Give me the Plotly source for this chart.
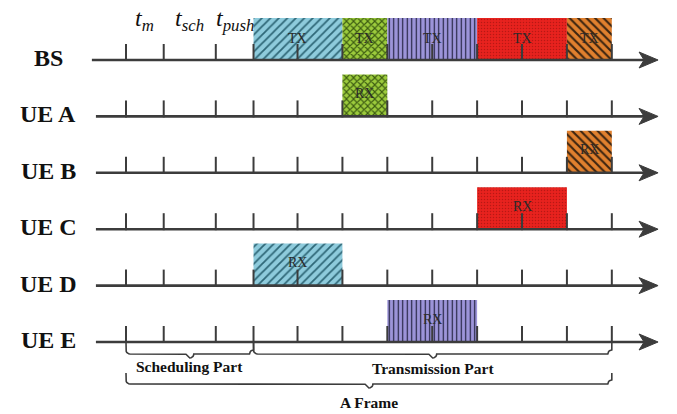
import numpy as np
import plotly.graph_objects as go

# ---------------- data ----------------
rows = ["BS", "UE A", "UE B", "UE C", "UE D", "UE E"]
row_line_start = [-0.76, -0.67, -0.67, -0.67, -0.67, -0.67]
arrow_end = 11.85
tick_times = [0.0, 0.84, 2.0, 2.84, 3.82, 4.82, 5.82, 6.82, 7.82, 8.82, 9.82, 10.82]

time_labels = ["<i>t</i><sub><i>m</i></sub>", "<i>t</i><sub><i>sch</i></sub>", "<i>t</i><sub><i>push</i></sub>"]
time_label_start = [0.0, 0.84, 2.0]
time_label_end = [0.84, 2.0, 2.84]

sched_start, sched_end, frame_end = 0.0, 2.84, 10.82

tx_start = [2.84, 4.82, 5.82, 7.82, 9.82]
tx_end = [4.82, 5.82, 7.82, 9.82, 10.82]
rx_rows = ["UE D", "UE A", "UE E", "UE C", "UE B"]
box_fill = ["#8ecbdc", "#9ccb3c", "#9d95da", "#e8221e", "#e0802e"]
box_fg = ["#2f6878", "#3d5c12", "#1e1e3a", "#b81814", "#3b2410"]
box_shape = ["/", "x", "|", ".", "\\"]
box_psize = [6, 5, 4.5, 3, 6]
box_solid = [0.3, 0.4, 0.25, 0.2, 0.35]

brace_labels = ["Scheduling Part", "Transmission Part", "A Frame"]

# ---------------- geometry (pixel scale of the diagram) ----------------
W, H = 677, 414
PX_X, PX_Y = 44.9, 56.4     # pixels per time unit / per row
X0_PX, Y0_PX = 126, 60      # pixel of time 0 / of first row
BOX_H = 42 / PX_Y
TICK_H = 16 / PX_Y
LINE_C = "#3c3c3c"
SERIF = "Liberation Serif, Times New Roman, serif"

def dx(px):
    return px / PX_X

def dy(px):
    return px / PX_Y

fig = go.Figure()
annotations = []

# boxes (bars)
for i in range(len(tx_start)):
    ys = [0, rows.index(rx_rows[i])]
    fig.add_trace(go.Bar(
        orientation="h",
        y=[r - BOX_H / 2 for r in ys],
        base=[tx_start[i]] * 2,
        x=[tx_end[i] - tx_start[i]] * 2,
        width=BOX_H,
        marker=dict(color=box_fill[i], line=dict(width=0),
                    pattern=dict(shape=box_shape[i], bgcolor=box_fill[i], fgcolor=box_fg[i],
                                 size=box_psize[i], solidity=box_solid[i], fillmode="replace")),
        hoverinfo="skip", showlegend=False,
    ))

# box texts
for i in range(len(tx_start)):
    c = (tx_start[i] + tx_end[i]) / 2
    for yy, lab in [(0 - dy(22), "TX"), (rows.index(rx_rows[i]) - dy(23), "RX")]:
        annotations.append(dict(x=c, y=yy, text=lab, showarrow=False,
                                xanchor="center", yanchor="middle",
                                font=dict(family=SERIF, size=14, color="#2a2a2a")))

# timeline lines
lx, ly = [], []
for r, s in enumerate(row_line_start):
    lx += [s, arrow_end - dx(8), None]
    ly += [r, r, None]
fig.add_trace(go.Scatter(x=lx, y=ly, mode="lines", line=dict(color=LINE_C, width=2.6),
                         hoverinfo="skip", showlegend=False))

# ticks
tx, ty = [], []
for r in range(len(rows)):
    for t in tick_times:
        tx += [t, t, None]
        ty += [r + dy(1), r - TICK_H, None]
fig.add_trace(go.Scatter(x=tx, y=ty, mode="lines", line=dict(color=LINE_C, width=2),
                         hoverinfo="skip", showlegend=False))

# arrow heads
ax_, ay_ = [], []
for r in range(len(rows)):
    ax_ += [arrow_end, arrow_end - dx(19), arrow_end - dx(14), arrow_end - dx(19), arrow_end, None]
    ay_ += [r, r - dy(8), r, r + dy(8), r, None]
fig.add_trace(go.Scatter(x=ax_, y=ay_, mode="lines", fill="toself", fillcolor=LINE_C,
                         line=dict(color=LINE_C, width=1), hoverinfo="skip", showlegend=False))

# braces
def brace(x0, x1, ytop, depth_px, tip_px, rad_px=4):
    xm = (x0 + x1) / 2
    yh = ytop + dy(depth_px)
    th = np.linspace(0, np.pi / 2, 6)
    xs, ys = [x0], [ytop]
    xs += list(x0 + dx(rad_px) * (1 - np.cos(th)))
    ys += list(yh - dy(rad_px) * (1 - np.sin(th)))
    xs += list(xm - dx(rad_px) * np.cos(th))
    ys += list(yh + dy(tip_px) * (1 - np.cos(th)))
    xs += list(xm + dx(rad_px) * np.sin(th))
    ys += list(yh + dy(tip_px) * np.cos(th))
    xs += list(x1 - dx(rad_px) * np.cos(th))
    ys += list(yh - dy(rad_px) * np.sin(th))
    xs += [x1, None]
    ys += [ytop, None]
    return xs, ys

last = len(rows) - 1
bxs, bys = [], []
for (a, b, yt, d, tp) in [(sched_start, sched_end, last, 12, 4),
                          (sched_end, frame_end, last, 12, 4),
                          (sched_start, frame_end, last + dy(31), 11, 4)]:
    xs, ys = brace(a, b, yt, d, tp)
    bxs += xs
    bys += ys
fig.add_trace(go.Scatter(x=bxs, y=bys, mode="lines", line=dict(color=LINE_C, width=1.6),
                         hoverinfo="skip", showlegend=False))

for r, name in enumerate(rows):
    annotations.append(dict(x=-dx(78), y=r - dy(2), text=name, showarrow=False,
                            xanchor="center", yanchor="middle",
                            font=dict(family=SERIF, size=24, color="#111111", weight="bold")))
for lab, a, b in zip(time_labels, time_label_start, time_label_end):
    annotations.append(dict(x=(a + b) / 2, y=-dy(40), text=lab, showarrow=False,
                            xanchor="center", yanchor="middle",
                            font=dict(family=SERIF, size=24, color="#111111")))
for lab, a, b, yy in zip(brace_labels, [sched_start, sched_end, sched_start],
                         [sched_end, frame_end, frame_end], [last + dy(24), last + dy(26), last + dy(60)]):
    annotations.append(dict(x=(a + b) / 2, y=yy, text=lab, showarrow=False,
                            xanchor="center", yanchor="middle",
                            font=dict(family=SERIF, size=15.5, color="#111111", weight="bold")))

fig.update_layout(
    width=W, height=H, margin=dict(l=0, r=0, t=0, b=0),
    paper_bgcolor="white", plot_bgcolor="white",
    barmode="overlay", showlegend=False,
    xaxis=dict(range=[-X0_PX / PX_X, (W - X0_PX) / PX_X], visible=False, fixedrange=True),
    yaxis=dict(range=[(H - Y0_PX) / PX_Y, -Y0_PX / PX_Y], visible=False, fixedrange=True),
    annotations=annotations,
)

fig.write_html("out.html", config={"displayModeBar": False},
               post_script="document.body.style.margin='0';document.body.style.overflow='hidden';")
